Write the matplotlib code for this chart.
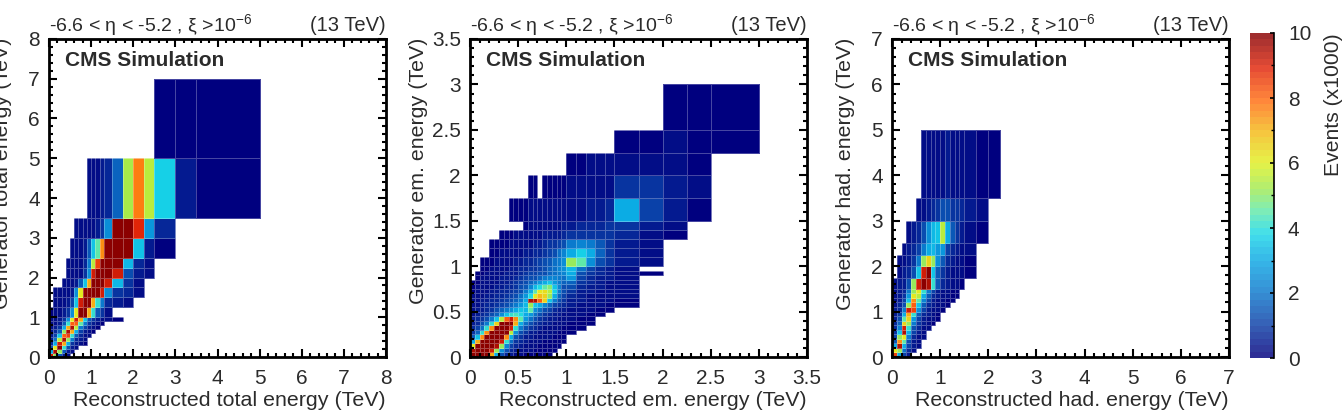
import matplotlib
matplotlib.use('Agg')
import matplotlib.pyplot as plt
import numpy as np
from matplotlib.colors import LinearSegmentedColormap
from matplotlib.ticker import MultipleLocator

plt.rcParams['font.family'] = ['Liberation Sans', 'DejaVu Sans']
plt.rcParams['mathtext.default'] = 'regular'

TEXT = '#2b2b2b'

# bin edges, TeV
x_total = [0, .1, .2, .3, .4, .5, .6, .7, .8, .9, 1, 1.1, 1.2, 1.3, 1.5, 1.75, 2, 2.25, 2.5, 3, 3.5, 5]
y_total = [0, .1, .2, .3, .4, .5, .6, .7, .8, .9, 1, 1.25, 1.5, 1.75, 2, 2.25, 2.5, 3, 3.5, 5, 7]

# events (x1000), bottom row first, 0 = empty bin, rows stop at their last filled bin
z_total = [
    [9, 5, 1.5, .5, .2],
    [3, 9.5, 5, 1.5, .5, .2],
    [1.2, 6, 10, 4, 1.2, .5, .2],
    [.7, 3, 9, 7, 3, .9, .5, .2, .1],
    [.5, 1.8, 5.5, 9.5, 5, 2, .7, .4, .2],
    [.4, 1, 3.5, 8, 8.5, 4, 1.5, .6, .3, .2],
    [.3, .6, 1.5, 5, 9.5, 7, 3, 1, .5, .2, .1],
    [.2, .4, .8, 3, 7, 9.5, 5.5, 2, 1, .4, .2, .1],
    [.2, .3, .5, 1.5, 4, 8, 8, 4.5, 2, .8, .4, .2, .1],
    [.2, .2, .4, .9, 2.5, 6, 9, 7, 3.5, 1.5, .8, .4, .2, .2, .1],
    [.1, .2, .3, .4, .8, 2.5, 6, 10, 10, 7, 4, 1.5, .8, .3],
    [0, .2, .2, .3, .4, 1, 3.5, 9, 10, 10, 7, 4, 2, .7, .4, .2],
    [0, .2, .2, .2, .3, .5, 2.5, 6, 10, 10, 10, 10, 9, 2.5, .9, .6, .2],
    [0, 0, 0, .2, .2, .3, .4, 1.5, 3.5, 7, 10, 10, 10, 9, 3.2, .8, .3],
    [0, 0, 0, 0, .2, .2, .2, .3, .9, 2.5, 9, 10, 10, 10, 9, 1.2, .4, .2],
    [0, 0, 0, 0, .2, .2, .2, .3, .7, 2, 5.5, 8.5, 10, 10, 10, 3.2, .6, .2],
    [0, 0, 0, 0, 0, .2, .2, .3, .5, 1.5, 3.5, 4.5, 7.5, 10, 10, 10, 3.5, .5, .1],
    [0, 0, 0, 0, 0, 0, .2, .2, .2, .3, .3, .5, .9, 2.5, 10, 10, 8.8, 2.7, .7],
    [0, 0, 0, 0, 0, 0, 0, 0, 0, .2, .3, .3, .4, .6, 1.7, 5.2, 7.6, 5.5, 3.7, .4, .1],
    [0, 0, 0, 0, 0, 0, 0, 0, 0, 0, 0, 0, 0, 0, 0, 0, 0, 0, .1, .1, .1],
]

x_em = [0, .05, .1, .15, .2, .25, .3, .35, .4, .45, .5, .55, .6, .65, .7, .75, .8, .85, .9, .95, 1,
        1.1, 1.2, 1.3, 1.4, 1.5, 1.75, 2, 2.25, 2.5, 3]
y_em = list(x_em)

z_em = [
    [10, 10, 10, 10, 7, 3, 1.2, .7, .4, .3, .2, .1, .1, .1, .1, .1, .1],
    [9.5, 10, 10, 10, 9, 5, 2.5, 1.2, .7, .4, .3, .2, .2, .1, .1, .1, .1, .1],
    [6, 10, 10, 10, 10, 9.5, 5, 2.2, 1.1, .6, .4, .3, .2, .2, .1, .1, .1, .1, .1],
    [3, 7, 10, 10, 10, 10, 9, 4, 1.8, .9, .6, .4, .3, .2, .2, .1, .1, .1, .1, .1],
    [1.5, 3.5, 7.5, 10, 10, 10, 10, 7.5, 3, 1.4, .8, .5, .4, .3, .2, .2, .2, .1, .1, .1],
    [.9, 1.6, 4, 7.5, 10, 10, 10, 10, 5.5, 2.4, 1.2, .8, .5, .4, .3, .3, .2, .2, .1, .1, .1],
    [.6, 1, 1.9, 4, 7.5, 10, 10, 10, 9, 4, 2, 1.2, .8, .6, .4, .3, .3, .2, .2, .1, .1, .1],
    [.5, .7, 1.2, 2, 4, 6.5, 10, 10, 10, 7, 3, 1.8, 1.2, .8, .6, .5, .4, .3, .2, .2, .1, .1, .1],
    [.4, .6, .9, 1.3, 2, 3.5, 5.5, 8, 9, 7.5, 4.5, 2.6, 1.8, 1.2, .8, .6, .5, .4, .3, .2, .2, .1, .1],
    [.3, .5, .7, .9, 1.2, 1.7, 2.5, 3.5, 4, 4.2, 3.8, 3, 2.8, 1.8, 1.2, .9, .7, .5, .4, .3, .2, .2, .1, .1],
    [.3, .4, .5, .7, .9, 1.2, 1.6, 2, 2.5, 3, 3.5, 3.2, 4.5, 2.5, 1.8, 1.3, 1, .7, .5, .4, .3, .2, .2, .1, .1],
    [.2, .3, .4, .6, .7, .9, 1.1, 1.4, 1.7, 2, 2.6, 3.2, 5, 3.5, 3, 2.2, 1.6, 1.1, .8, .6, .4, .3, .2, .2, .1, .1],
    [.2, .3, .4, .5, .6, .7, .9, 1.1, 1.4, 1.7, 2, 3, 9.5, 9.5, 8, 6.5, 3.5, 2, 1.2, .8, .5, .4, .3, .2, .2, .1],
    [.2, .2, .3, .4, .5, .6, .7, .9, 1.1, 1.4, 1.8, 2.6, 3.8, 6, 6.8, 6.5, 5, 3, 1.6, 1, .7, .5, .3, .3, .2, .2],
    [.1, .2, .3, .3, .4, .5, .6, .7, .9, 1.1, 1.4, 2, 3, 4.5, 6, 6.2, 5.5, 3.6, 2, 1.2, .8, .5, .4, .3, .2, .2],
    [.1, .2, .2, .3, .3, .4, .5, .6, .7, .9, 1.2, 1.5, 2.2, 3.2, 3.8, 4.5, 4.8, 3.5, 2.2, 1.4, 1.2, .7, .5, .4, .3, .2],
    [.1, .1, .2, .2, .3, .3, .4, .5, .6, .8, 1, 1.3, 1.6, 2, 2.6, 3, 3.4, 2.8, 2.1, 1.6, 1.7, .8, .6, .4, .3, .2],
    [0, .1, .2, .2, .2, .3, .4, .4, .5, .6, .8, 1, 1.2, 1.4, 1.7, 2, 2.2, 2.2, 2, 1.9, 2.8, 1, .7, .5, .4, .2],
    [0, .1, .1, .2, .2, .2, .3, .4, .5, .5, .7, .8, 1, 1.1, 1.2, 1.4, 1.7, 1.9, 2.1, 2.3, 3, 1.3, .8, .6, .4, .3, .1],
    [0, 0, .1, .1, .2, .2, .3, .3, .4, .5, .6, .7, .8, .9, 1.1, 1.3, 1.6, 1.9, 2.2, 2.5, 3.3, 1.8, 1, .7, .5, .3],
    [0, 0, .1, .1, .1, .2, .2, .3, .3, .4, .5, .6, .7, .9, 1, 1.2, 1.5, 1.8, 2.1, 2.4, 5, 4.5, 2.5, 1.4, .8, .4, .2],
    [0, 0, 0, 0, .1, .1, .2, .2, .2, .3, .3, .4, .5, .6, .7, .9, 1.1, 1.4, 1.8, 2.2, 3, 3.6, 3, 1.7, .9, .5, .3],
    [0, 0, 0, 0, .1, .1, .1, .1, .2, .2, .3, .3, .3, .4, .5, .6, .8, .9, 1.1, 1.4, 2, 2.2, 2, 1.5, .9, .5, .3],
    [0, 0, 0, 0, 0, 0, .1, .1, .1, .2, .2, .2, .2, .3, .3, .4, .4, .4, .5, .6, .8, .9, .9, .9, .8, .6, .3, .1],
    [0, 0, 0, 0, 0, 0, 0, 0, 0, 0, 0, .1, .2, .2, .3, .3, .3, .3, .3, .4, .5, .6, .7, .7, .8, .9, .5, .2],
    [0, 0, 0, 0, 0, 0, 0, 0, .1, .1, .1, .1, .2, .2, .2, .2, .2, .2, .2, .2, .3, .3, .4, .4, .7, 3, 1, .4, .1],
    [0, 0, 0, 0, 0, 0, 0, 0, 0, 0, 0, 0, .1, .1, 0, .1, .1, .1, .1, .1, .2, .2, .2, .3, .3, .8, .8, .4, .2],
    [0, 0, 0, 0, 0, 0, 0, 0, 0, 0, 0, 0, 0, 0, 0, 0, 0, 0, 0, 0, .1, .1, .2, .2, .2, .2, .3, .3, .1],
    [0, 0, 0, 0, 0, 0, 0, 0, 0, 0, 0, 0, 0, 0, 0, 0, 0, 0, 0, 0, 0, 0, 0, 0, 0, .1, .1, .2, .1, .1],
    [0, 0, 0, 0, 0, 0, 0, 0, 0, 0, 0, 0, 0, 0, 0, 0, 0, 0, 0, 0, 0, 0, 0, 0, 0, 0, 0, .1, .1, .1],
]

x_had = [0, .1, .2, .3, .4, .5, .6, .7, .8, .9, 1, 1.1, 1.2, 1.3, 1.4, 1.5, 1.75, 2, 2.25]
y_had = [0, .1, .2, .3, .4, .5, .6, .7, .8, .9, 1, 1.1, 1.2, 1.3, 1.4, 1.5, 1.75, 2, 2.25, 2.5, 3, 3.5, 5]

z_had = [
    [8.5, 3, 1, .4],
    [6, 5, 1.8, .6, .3],
    [3, 9.5, 3, 1, .4, .2],
    [1.5, 7.5, 4.5, 1.4, .5, .3],
    [1, 5, 6, 2, .7, .3, .2],
    [.8, 3.5, 9.5, 3, 1, .5, .2],
    [.7, 2.2, 9, 4, 1.4, .6, .3, .2],
    [.6, 1.6, 6.5, 5, 2, .8, .4, .2, .1],
    [.5, 1.2, 4.5, 6.5, 2.8, 1, .5, .3, .2, .1],
    [.5, .9, 3, 7, 4, 1.5, .7, .4, .2, .1],
    [.4, .7, 2, 9, 8.5, 2.5, 1, .5, .3, .2, .1],
    [.3, .6, 1.3, 5, 8, 3.5, 1.5, .7, .4, .2, .2, .1],
    [.3, .5, 1, 3.5, 7.5, 4.5, 2.2, 1, .5, .3, .2, .1, .1],
    [.3, .4, .8, 2.8, 6, 5.5, 3, 1.5, .7, .4, .2, .2, .1, .1],
    [.3, .4, .7, 2, 5, 6, 4, 2, 1, .5, .3, .2, .1, .1],
    [.2, .4, .5, 1.2, 5, 9, 10, 9.5, 4, 1.5, .7, .4, .3, .2, .1],
    [0, .3, .4, .6, 1.2, 3.5, 9, 10, 3.5, 1.5, .8, .4, .3, .2, .2, .1],
    [0, .3, .3, .5, .9, 2, 5, 6.5, 5, 2.5, 1.5, .6, .4, .3, .2, .1],
    [0, 0, .3, .4, .6, 1, 2, 3, 3.3, 2.8, 2.6, 1, .6, .4, .3, .2],
    [0, 0, 0, .3, .4, .7, 1.2, 2.5, 3.3, 3.5, 5.5, 3, 1.5, .8, .5, .3, .1],
    [0, 0, 0, 0, 0, .3, .3, .4, .6, .9, 1.3, 1.2, .9, .8, .6, .4, .2],
    [0, 0, 0, 0, 0, 0, .2, .2, .2, .3, .3, .4, .3, .3, .3, .2, .1, .1],
]

# tick positions and labels
ticks_total = [0, 1, 2, 3, 4, 5, 6, 7, 8]
labels_total = ['0', '1', '2', '3', '4', '5', '6', '7', '8']
ticks_em = [0, .5, 1, 1.5, 2, 2.5, 3, 3.5]
labels_em = ['0', '0.5', '1', '1.5', '2', '2.5', '3', '3.5']
ticks_had = [0, 1, 2, 3, 4, 5, 6, 7]
labels_had = ['0', '1', '2', '3', '4', '5', '6', '7']
cbar_ticks = [0, 2, 4, 6, 8, 10]

# palette stops picked off the reference cells
palette_pos = [0, .1, .2, .3, .38, .45, .52, .6, .7, .8, .9, 1]
palette_col = ['#00007f', '#0a40a8', '#0a78cc', '#0aa8e4', '#18d8e8', '#60e8a8', '#a0ea50',
               '#e0f020', '#f5b814', '#ff6a10', '#e02408', '#8b0000']

W, H = 1342, 415


def px_axes(left, top, right, bottom):
    return fig.add_axes([left / W, 1 - bottom / H, (right - left) / W, (bottom - top) / H])


def panel(ax, xe, ye, rows, ticks, labels, minor, xlabel, ylabel, ylab_x):
    # short rows get padded with empty bins
    z = np.zeros((len(ye) - 1, len(xe) - 1))
    for i, row in enumerate(rows):
        z[i, :len(row)] = row
    z = np.ma.masked_equal(z, 0)
    mesh = ax.pcolormesh(xe, ye, z, cmap=cmap, vmin=0, vmax=10,
                         edgecolors=(1, 1, 1, 0.28), linewidth=0.6)
    ax.set_xlim(ticks[0], ticks[-1])
    ax.set_ylim(ticks[0], ticks[-1])
    ax.set_xticks(ticks, labels)
    ax.set_yticks(ticks, labels)
    ax.xaxis.set_minor_locator(MultipleLocator(minor))
    ax.yaxis.set_minor_locator(MultipleLocator(minor))
    ax.tick_params(which='major', direction='in', top=True, right=True, length=6, width=1.5,
                   labelsize=15, labelcolor=TEXT)
    ax.tick_params(which='minor', direction='in', top=True, right=True, length=3, width=1.5)
    ax.tick_params(axis='x', which='major', pad=8.5)
    ax.tick_params(axis='y', which='major', pad=6.5)
    for s in ax.spines.values():
        s.set_linewidth(2)
    ax.set_xlabel(xlabel, fontsize=15.4, color=TEXT, loc='right', labelpad=2)
    ax.set_ylabel(ylabel, fontsize=15.4, color=TEXT, loc='top')
    ax.yaxis.set_label_coords(ylab_x, 1.005)
    ax.text(0, 1.025, r'-6.6 < η < -5.2 , ξ >10$^{-6}$', transform=ax.transAxes,
            fontsize=14, color=TEXT, va='baseline')
    ax.text(1, 1.025, '(13 TeV)', transform=ax.transAxes, fontsize=14.5, color=TEXT,
            ha='right', va='baseline')
    ax.text(0.047, 0.931, 'CMS Simulation', transform=ax.transAxes, fontsize=15,
            fontweight='bold', color=TEXT, va='center')
    return mesh


cmap = LinearSegmentedColormap.from_list('events', list(zip(palette_pos, palette_col)), N=50)

fig = plt.figure(figsize=(W / 100, H / 100), dpi=100)

ax1 = px_axes(49, 39, 386, 357)
ax2 = px_axes(470, 39, 807, 357)
ax3 = px_axes(892, 39, 1229, 357)
cax = px_axes(1250, 33, 1274, 358)

panel(ax1, x_total, y_total, z_total, ticks_total, labels_total, 0.2,
      'Reconstructed total energy (TeV)', 'Generator total energy (TeV)', -0.11)
panel(ax2, x_em, y_em, z_em, ticks_em, labels_em, 0.1,
      'Reconstructed em. energy (TeV)', 'Generator em. energy (TeV)', -0.125)
mesh = panel(ax3, x_had, y_had, z_had, ticks_had, labels_had, 0.2,
             'Reconstructed had. energy (TeV)', 'Generator had. energy (TeV)', -0.11)

cb = fig.colorbar(mesh, cax=cax)
cb.solids.set_alpha(0.82)
cb.solids.set_edgecolor('none')
cb.outline.set_visible(False)
cb.set_ticks(cbar_ticks)
cax.yaxis.set_minor_locator(MultipleLocator(1))
cax.tick_params(which='major', direction='in', right=True, length=3, width=1.2,
                labelsize=15, labelcolor=TEXT, pad=10)
cax.tick_params(which='minor', direction='in', right=True, length=2, width=1)
cax.plot([1, 1], [0, 1], transform=cax.transAxes, color='black', lw=1.2, clip_on=False)
cb.set_label('Events (x1000)', fontsize=15.2, color=TEXT, loc='top', labelpad=9)

fig.savefig('out.png', dpi=100)
